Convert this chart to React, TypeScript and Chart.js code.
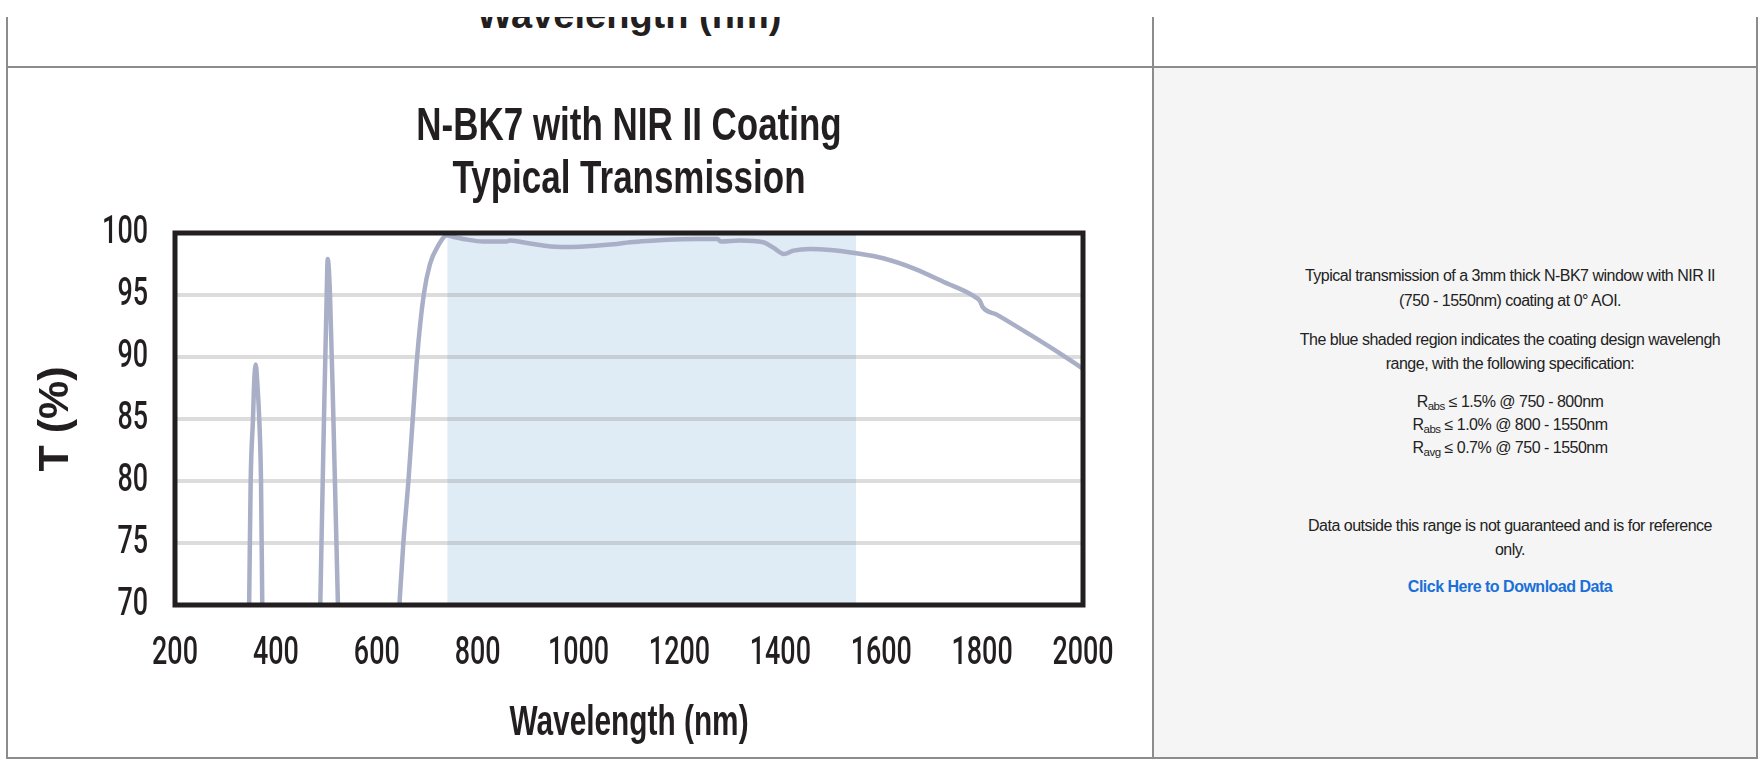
import React, { useEffect, useRef } from "react";
import { Chart, registerables } from "chart.js";

Chart.register(...registerables);

// ---------- data ----------
const chartTitle = ["N-BK7 with NIR II Coating", "Typical Transmission"];
const xAxisTitle = "Wavelength (nm)";
const yAxisTitle = "T (%)";
const xTicks = [200, 400, 600, 800, 1000, 1200, 1400, 1600, 1800, 2000];
const yTicks = [70, 75, 80, 85, 90, 95, 100];
const designBand = [740, 1550];

const wavelength = [
  347, 350, 354.6, 357, 360, 363, 367, 370.5, 373,
  430,
  488, 495.3, 500.7, 502.7, 507.3, 514, 523,
  580,
  644.8, 652.7, 662.7, 671.3, 680, 693, 705.5, 722, 738.6, 758.4, 771.6, 811.3,
  857.6, 864, 903.8, 963.3, 1003, 1069, 1102, 1135, 1168, 1234, 1275, 1282, 1320,
  1366, 1386, 1407, 1426, 1459, 1499, 1551, 1604, 1664, 1723, 1789, 1796, 1801,
  1829, 1895, 1948, 2000,
];
const transmission = [
  70, 80, 85, 88, 89.4, 88, 85, 80, 70,
  null,
  70, 85, 95, 97.9, 95, 85, 70,
  null,
  70, 75, 80, 85, 90, 95, 97.5, 99, 99.8, 99.63, 99.52, 99.31,
  99.31, 99.39, 99.15, 98.88, 98.9, 99.09, 99.25, 99.36, 99.44, 99.52, 99.52, 99.31, 99.39,
  99.25, 98.82, 98.31, 98.58, 98.71, 98.63, 98.36, 97.96, 97.15, 96.07, 94.77, 94.5, 94.04,
  93.42, 91.8, 90.45, 89.05,
];

const CHART_FONT = "'Liberation Sans', Arial, Helvetica, sans-serif";
const TICK_FONT = "Roboto, 'Liberation Sans', Arial, sans-serif";
const INK = "#231f20";

// horizontal squeeze per font size, to imitate the condensed face of the original
const TITLE_SIZE = 46;
const TICK_SIZE = 39;
const AXIS_TITLE_SIZE = 42;
const Y_TITLE_SIZE = 43;
const squeeze: Record<number, number> = { [TITLE_SIZE]: 0.76, [TICK_SIZE]: 0.69, [AXIS_TITLE_SIZE]: 0.71 };

function TransmissionChart() {
  const ref = useRef<HTMLCanvasElement>(null);

  useEffect(() => {
    const canvas = ref.current;
    if (!canvas) return;

    const condensePlugin = {
      id: "condense",
      beforeDraw(chart: any) {
        const ctx = chart.ctx as any;
        if (ctx.__origFillText) return;
        const orig = ctx.fillText;
        ctx.__origFillText = orig;
        ctx.fillText = function (text: string, x: number, y: number, maxWidth?: number) {
          const m = /(\d+(?:\.\d+)?)px/.exec(this.font);
          const k = m ? squeeze[Math.round(parseFloat(m[1]))] : undefined;
          if (!k) return orig.call(this, text, x, y, maxWidth);
          this.save();
          this.translate(x, y);
          this.scale(k, 1);
          if (maxWidth === undefined) orig.call(this, text, 0, 0);
          else orig.call(this, text, 0, 0, maxWidth / k);
          this.restore();
        };
      },
      afterDraw(chart: any) {
        const ctx = chart.ctx as any;
        if (ctx.__origFillText) {
          ctx.fillText = ctx.__origFillText;
          delete ctx.__origFillText;
        }
      },
    };

    const shadePlugin = {
      id: "designBand",
      beforeDraw(chart: any) {
        const { ctx, chartArea, scales } = chart;
        const x0 = scales.x.getPixelForValue(designBand[0]);
        const x1 = scales.x.getPixelForValue(designBand[1]);
        ctx.save();
        ctx.fillStyle = "#dfebf5";
        ctx.fillRect(x0, chartArea.top, x1 - x0, chartArea.bottom - chartArea.top);
        ctx.restore();
      },
    };

    const framePlugin = {
      id: "frame",
      afterDatasetsDraw(chart: any) {
        const { ctx, chartArea: a } = chart;
        ctx.save();
        ctx.strokeStyle = INK;
        ctx.lineWidth = 5;
        ctx.lineJoin = "miter";
        ctx.strokeRect(a.left, a.top, a.right - a.left, a.bottom - a.top);
        ctx.restore();
      },
    };

    const chart = new Chart(canvas, {
      type: "line",
      data: {
        datasets: [
          {
            data: wavelength.map((x, i) => ({ x, y: transmission[i] })) as any,
            borderColor: "#a9afc6",
            borderWidth: 4.5,
            pointRadius: 0,
            cubicInterpolationMode: "monotone",
            spanGaps: false,
            fill: false,
          },
        ],
      },
      options: {
        animation: false,
        responsive: false,
        maintainAspectRatio: false,
        layout: { padding: { left: 0, right: 69, top: 0, bottom: 0 } },
        plugins: {
          legend: { display: false },
          tooltip: { enabled: false },
          title: {
            display: true,
            fullSize: false,
            text: chartTitle,
            color: INK,
            font: { family: CHART_FONT, size: TITLE_SIZE, weight: "bold", lineHeight: 53 / TITLE_SIZE },
            padding: { top: 33, bottom: 26 },
          },
        },
        scales: {
          x: {
            type: "linear",
            min: xTicks[0],
            max: xTicks[xTicks.length - 1],
            afterBuildTicks: (s: any) => {
              s.ticks = xTicks.map((v) => ({ value: v }));
            },
            afterFit: (s: any) => {
              s.height = 153;
            },
            ticks: {
              autoSkip: false,
              maxRotation: 0,
              padding: 18,
              color: INK,
              font: { family: TICK_FONT, size: TICK_SIZE, weight: 500, lineHeight: 1.2 },
              callback: (v: any) => String(v),
            },
            grid: { display: false },
            border: { display: false },
            title: {
              display: true,
              text: xAxisTitle,
              color: INK,
              font: { family: CHART_FONT, size: AXIS_TITLE_SIZE, weight: "bold", lineHeight: 1.2 },
              padding: { top: 0, bottom: 9 },
            },
          },
          y: {
            type: "linear",
            min: yTicks[0],
            max: yTicks[yTicks.length - 1],
            afterBuildTicks: (s: any) => {
              s.ticks = yTicks.map((v) => ({ value: v }));
            },
            afterFit: (s: any) => {
              s.width = 167;
            },
            ticks: {
              padding: 27,
              color: INK,
              font: { family: TICK_FONT, size: TICK_SIZE, weight: 500, lineHeight: 1.2 },
              callback: (v: any) => String(v),
            },
            grid: {
              drawTicks: false,
              lineWidth: 4,
              color: (c: any) =>
                c.tick && (c.tick.value === yTicks[0] || c.tick.value === yTicks[yTicks.length - 1])
                  ? "rgba(0,0,0,0)"
                  : "rgba(140,140,140,0.3)",
            },
            border: { display: false },
            title: {
              display: true,
              text: yAxisTitle,
              color: INK,
              font: { family: CHART_FONT, size: Y_TITLE_SIZE, weight: "bold", lineHeight: 1.2 },
              padding: { top: 22, bottom: 0 },
            },
          },
        },
      } as any,
      plugins: [condensePlugin, shadePlugin, framePlugin],
    });

    return () => chart.destroy();
  }, []);

  return (
    <canvas
      ref={ref}
      width={1144}
      height={690}
      style={{ position: "absolute", left: 8, top: 68, width: 1144, height: 690 }}
    />
  );
}

const LINE = "#8c8c8c";
const bodyFont = "'Liberation Sans', Arial, Helvetica, sans-serif";
const sub: React.CSSProperties = { fontSize: "0.72em", verticalAlign: "-0.25em", lineHeight: 0 };

export default function App() {
  return (
    <div
      style={{
        position: "absolute",
        left: 0,
        top: 0,
        width: 1758,
        height: 760,
        overflow: "hidden",
        background: "#fff",
      }}
    >
      {/* bottom of the previous row's chart, cut off */}
      <div
        style={{
          position: "absolute",
          left: 175,
          width: 908,
          top: -4,
          textAlign: "center",
          fontFamily: CHART_FONT,
          fontWeight: "bold",
          fontSize: 38,
          lineHeight: "38px",
          color: INK,
          whiteSpace: "nowrap",
        }}
      >
        {xAxisTitle}
      </div>
      {/* header overlay */}
      <div style={{ position: "absolute", left: 0, top: 0, width: 1758, height: 17, background: "#fff" }} />

      {/* grey right cell */}
      <div style={{ position: "absolute", left: 1154, top: 68, width: 602, height: 689, background: "#f5f5f5" }} />

      {/* table lines */}
      <div style={{ position: "absolute", left: 6, top: 17, width: 2, height: 742, background: LINE }} />
      <div style={{ position: "absolute", left: 1152, top: 17, width: 2, height: 742, background: LINE }} />
      <div style={{ position: "absolute", left: 1756, top: 17, width: 2, height: 742, background: LINE }} />
      <div style={{ position: "absolute", left: 6, top: 66, width: 1752, height: 2, background: LINE }} />
      <div style={{ position: "absolute", left: 6, top: 757, width: 1752, height: 2, background: LINE }} />

      <TransmissionChart />

      {/* description */}
      <div
        style={{
          position: "absolute",
          left: 1209,
          width: 602,
          top: 264,
          textAlign: "center",
          fontFamily: bodyFont,
          fontSize: 16,
          letterSpacing: "-0.5px",
          color: "#222",
          lineHeight: "24.5px",
          whiteSpace: "nowrap",
        }}
      >
        <div>
          Typical transmission of a 3mm thick N-BK7 window with NIR II
          <br />
          (750 - 1550nm) coating at 0° AOI.
        </div>
        <div style={{ marginTop: 14.7 }}>
          The blue shaded region indicates the coating design wavelengh
          <br />
          range, with the following specification:
        </div>
        <div style={{ marginTop: 13.5, lineHeight: "23px" }}>
          <div style={{ height: 23 }}>
            R<span style={sub}>abs</span> ≤ 1.5% @ 750 - 800nm
          </div>
          <div style={{ height: 23 }}>
            R<span style={sub}>abs</span> ≤ 1.0% @ 800 - 1550nm
          </div>
          <div style={{ height: 23 }}>
            R<span style={sub}>avg</span> ≤ 0.7% @ 750 - 1550nm
          </div>
        </div>
        <div style={{ marginTop: 54.6 }}>
          Data outside this range is not guaranteed and is for reference
          <br />
          only.
        </div>
        <div style={{ marginTop: 12.7 }}>
          <span style={{ color: "#1a6fd8", fontWeight: "bold" }}>Click Here to Download Data</span>
        </div>
      </div>
    </div>
  );
}
